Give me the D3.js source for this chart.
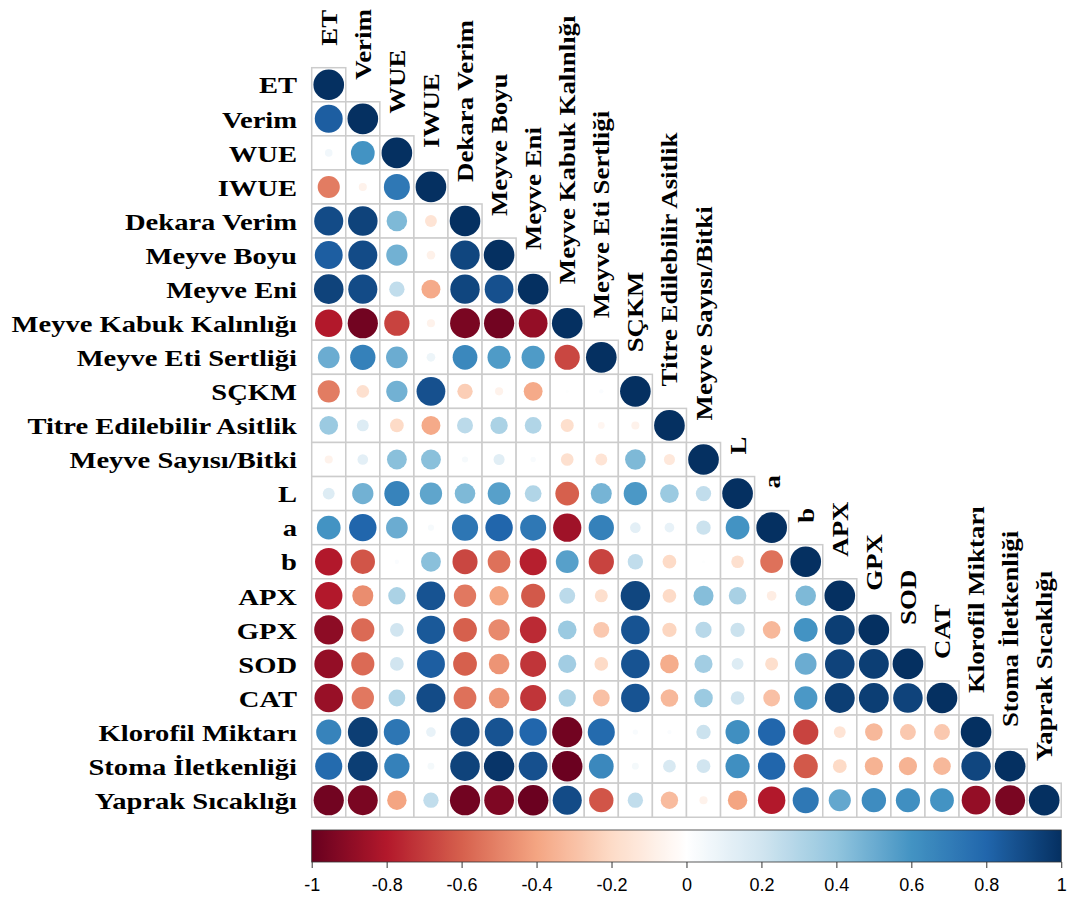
<!DOCTYPE html>
<html>
<head>
<meta charset="utf-8">
<script src="https://cdn.jsdelivr.net/npm/d3@7/dist/d3.min.js"></script>
<style>
  html, body { margin: 0; padding: 0; background: #fff; }
  svg { display: block; }
  .lab { font-family: "Liberation Serif", "Times New Roman", serif; font-weight: bold; fill: #000; }
  .tick-lab { font-family: "Liberation Sans Narrow", "Arial Narrow", "Liberation Sans", sans-serif; fill: #000; }
</style>
</head>
<body>
<svg id="chart" width="1077" height="907"></svg>
<script>
// Variable names (rows top-to-bottom, columns left-to-right)
const variables = [
  "ET", "Verim", "WUE", "IWUE", "Dekara Verim", "Meyve Boyu", "Meyve Eni",
  "Meyve Kabuk Kalınlığı", "Meyve Eti Sertliği", "SÇKM", "Titre Edilebilir Asitlik",
  "Meyve Sayısı/Bitki", "L", "a", "b", "APX", "GPX", "SOD", "CAT",
  "Klorofil Miktarı", "Stoma İletkenliği", "Yaprak Sıcaklığı"
];

// Lower-triangle correlation coefficients: row i holds r(i, 0..i-1); the diagonal is 1
const corrRows = [
  [],
  [0.83],
  [0.06, 0.60],
  [-0.52, -0.07, 0.72],
  [0.90, 0.93, 0.45, -0.15],
  [0.83, 0.90, 0.48, -0.08, 0.92],
  [0.93, 0.90, 0.25, -0.38, 0.92, 0.88],
  [-0.80, -0.97, -0.68, -0.07, -0.95, -0.97, -0.88],
  [0.50, 0.68, 0.50, 0.08, 0.65, 0.57, 0.57, -0.67],
  [-0.52, -0.17, 0.48, 0.88, -0.25, -0.07, -0.38, 0.01, 0.02],
  [0.37, 0.15, -0.20, -0.38, 0.27, 0.32, 0.30, -0.18, -0.05, -0.07],
  [-0.07, 0.12, 0.42, 0.42, 0.04, 0.13, 0.03, -0.17, -0.15, 0.45, -0.13],
  [0.15, 0.48, 0.67, 0.53, 0.45, 0.55, 0.30, -0.60, 0.47, 0.58, 0.37, 0.25],
  [0.60, 0.80, 0.50, 0.04, 0.73, 0.80, 0.72, -0.85, 0.68, 0.12, 0.10, 0.22, 0.60],
  [-0.80, -0.63, 0.02, 0.42, -0.67, -0.55, -0.78, 0.55, -0.68, 0.25, -0.20, 0.01, -0.17, -0.55],
  [-0.80, -0.47, 0.32, 0.87, -0.53, -0.40, -0.62, 0.27, -0.18, 0.92, -0.20, 0.43, 0.33, -0.10, 0.45],
  [-0.90, -0.57, 0.20, 0.85, -0.60, -0.48, -0.75, 0.37, -0.27, 0.87, -0.22, 0.28, 0.22, -0.33, 0.60, 0.95],
  [-0.88, -0.57, 0.20, 0.83, -0.60, -0.45, -0.72, 0.35, -0.20, 0.87, -0.37, 0.35, 0.15, -0.18, 0.50, 0.93, 0.95],
  [-0.87, -0.53, 0.30, 0.90, -0.55, -0.45, -0.72, 0.32, -0.30, 0.87, -0.33, 0.37, 0.20, -0.30, 0.58, 0.95, 0.95, 0.93],
  [0.67, 0.95, 0.73, 0.10, 0.90, 0.87, 0.80, -0.97, 0.78, 0.03, 0.02, 0.22, 0.62, 0.80, -0.68, -0.15, -0.33, -0.27, -0.27],
  [0.78, 0.95, 0.68, 0.05, 0.93, 0.98, 0.88, -0.99, 0.65, 0.05, 0.17, 0.20, 0.62, 0.80, -0.62, -0.20, -0.35, -0.35, -0.33, 0.92],
  [-0.97, -0.95, -0.40, 0.25, -0.97, -0.94, -0.99, 0.90, -0.63, 0.25, -0.32, -0.07, -0.40, -0.80, 0.72, 0.52, 0.63, 0.62, 0.60, -0.88, -0.95]
];

// Colour bar tick values
const legendTicks = [-1, -0.8, -0.6, -0.4, -0.2, 0, 0.2, 0.4, 0.6, 0.8, 1];

// Diverging red-white-blue palette anchors from -1 to 1
const paletteColors = ["#67001F", "#B2182B", "#D6604D", "#F4A582", "#FDDBC7", "#FFFFFF",
                       "#D1E5F0", "#92C5DE", "#4393C3", "#2166AC", "#053061"];

// ---- build cell list ----
const cells = [];
corrRows.forEach((row, i) => {
  row.forEach((v, j) => cells.push({ i, j, v }));
  cells.push({ i, j: i, v: 1 });
});

const svg = d3.select("#chart");

const gridLeft = 311.7, gridTop = 67.7, cell = 34.07;
const n = variables.length;

const x = d3.scaleBand().domain(d3.range(n)).range([gridLeft, gridLeft + n * cell]).padding(0);
const y = d3.scaleBand().domain(d3.range(n)).range([gridTop, gridTop + n * cell]).padding(0);

const color = d3.scaleLinear()
  .domain(d3.range(paletteColors.length).map(k => -1 + 2 * k / (paletteColors.length - 1)))
  .range(paletteColors)
  .interpolate(d3.interpolateRgb);

const radius = d3.scaleSqrt().domain([0, 1]).range([0, 0.45 * cell]);

// ---- cell backgrounds with grey borders ----
svg.append("g")
  .selectAll("rect")
  .data(cells)
  .join("rect")
  .attr("x", d => x(d.j))
  .attr("y", d => y(d.i))
  .attr("width", x.bandwidth())
  .attr("height", y.bandwidth())
  .attr("fill", "#fff")
  .attr("stroke", "#cccccc")
  .attr("stroke-width", 1.5);

// ---- circles ----
svg.append("g")
  .selectAll("circle")
  .data(cells)
  .join("circle")
  .attr("cx", d => x(d.j) + x.bandwidth() / 2)
  .attr("cy", d => y(d.i) + y.bandwidth() / 2)
  .attr("r", d => radius(Math.abs(d.v)))
  .attr("fill", d => color(d.v));

// ---- row labels (left) ----
const labelSize = 24, rowStretch = 1.19, colStretch = 1.12;
svg.append("g")
  .selectAll("text")
  .data(variables)
  .join("text")
  .attr("class", "lab")
  .attr("font-size", labelSize)
  .attr("text-anchor", "end")
  .attr("dominant-baseline", "central")
  .attr("transform", (d, i) => `translate(297,${y(i) + y.bandwidth() / 2 + 1}) scale(${rowStretch},1)`)
  .text(d => d);

// ---- column labels (rotated, above the diagonal) ----
svg.append("g")
  .selectAll("text")
  .data(variables)
  .join("text")
  .attr("class", "lab")
  .attr("font-size", labelSize)
  .attr("text-anchor", "start")
  .attr("transform", (d, i) => `translate(${x(i) + x.bandwidth() / 2 + 8},${y(i) - 22}) rotate(-90) scale(${colStretch},1)`)
  .text(d => d);

// ---- colour bar ----
const barTop = 830, barH = 32;
const lx = d3.scaleLinear().domain([-1, 1]).range([gridLeft, gridLeft + n * cell]);

const defs = svg.append("defs");
const grad = defs.append("linearGradient").attr("id", "cbar").attr("x1", "0%").attr("x2", "100%");
d3.range(0, 101).forEach(k => {
  const v = -1 + 2 * k / 100;
  grad.append("stop").attr("offset", `${k}%`).attr("stop-color", color(v));
});

svg.append("rect")
  .attr("x", lx(-1))
  .attr("y", barTop)
  .attr("width", lx(1) - lx(-1))
  .attr("height", barH)
  .attr("fill", "url(#cbar)")
  .attr("stroke", "#333")
  .attr("stroke-width", 0.8);

const axis = d3.axisBottom(lx)
  .tickValues(legendTicks)
  .tickSize(6)
  .tickFormat(d => String(d));

const axG = svg.append("g")
  .attr("transform", `translate(0,${barTop + barH})`)
  .call(axis);
axG.select(".domain").remove();
axG.selectAll(".tick line").attr("stroke", "#333");
axG.selectAll(".tick text")
  .attr("class", "tick-lab")
  .attr("font-size", 18)
  .attr("dy", "1.1em")
  .attr("fill", "#000");
</script>
</body>
</html>
